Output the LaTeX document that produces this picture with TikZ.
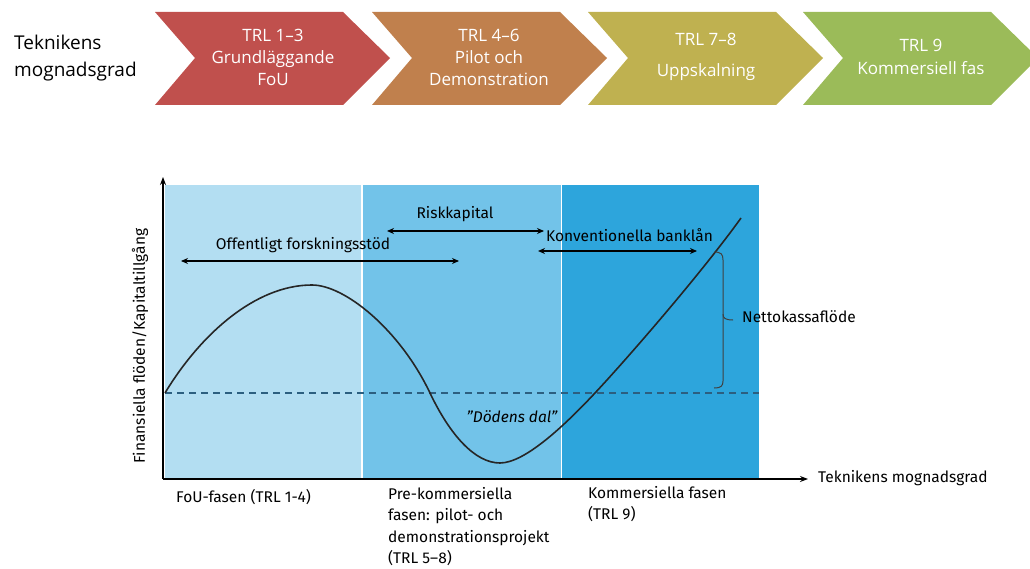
\documentclass[tikz,border=0pt]{standalone}
\usepackage{fontspec}
\setmainfont{Open Sans}
\newfontfamily\chartfont{Fira Sans}
\usetikzlibrary{arrows.meta}
\definecolor{cRed}{HTML}{C0504D}
\definecolor{cOrange}{HTML}{C0804D}
\definecolor{cOlive}{HTML}{BFB150}
\definecolor{cGreen}{HTML}{9BBB59}
\definecolor{bLight}{HTML}{B3DEF2}
\definecolor{bMid}{HTML}{72C3E9}
\definecolor{bDark}{HTML}{2DA5DC}
\definecolor{dashc}{HTML}{2C5F80}
\tikzset{
  chevtext/.style={text=white, font=\fontsize{17}{22}\selectfont, align=center, inner sep=0pt},
  lbl/.style={font=\chartfont\fontsize{15.5}{21.5}\selectfont, inner sep=0pt},
  dbl/.style={{Stealth[length=7pt,width=6pt]}-{Stealth[length=7pt,width=6pt]}, line width=1.4pt},
  axis/.style={-{Stealth[length=8pt,width=6pt]}, line width=1.3pt},
}
\begin{document}
\begin{tikzpicture}[x=1pt,y=-1pt]
\useasboundingbox (0,0) rectangle (1030,569);
% chevrons
\foreach \L/\c in {155/cRed,372/cOrange,588/cOlive,803/cGreen}{
  \fill[\c] (\L,12) -- (\L+188,12) -- (\L+235,58) -- (\L+188,105) -- (\L,105) -- (\L+40,58) -- cycle;
}
\node[anchor=west, font=\fontsize{19}{27}\selectfont, align=left, inner sep=0pt] (tm) at (14,58) {Teknikens\\mognadsgrad};
\node[chevtext] (c1) at (273,57) {TRL 1–3\\Grundläggande\\FoU};
\node[chevtext] (c2) at (489,57) {TRL 4–6\\Pilot och\\Demonstration};
\node[chevtext, font=\fontsize{17}{31}\selectfont] (c3) at (706,57) {TRL 7–8\\Uppskalning};
\node[chevtext, font=\fontsize{17}{23}\selectfont] (c4) at (921,57) {TRL 9\\Kommersiell fas};
% backgrounds
\fill[bLight] (165,185) rectangle (362,478);
\fill[bMid] (362,185) rectangle (561,478);
\fill[bDark] (561,185) rectangle (759,478);
\draw[white, line width=1.2pt] (362,185) -- (362,478);
\draw[white, line width=1.2pt] (561.5,185) -- (561.5,478);
% dashed line
\draw[dashc, line width=1.3pt, dash pattern=on 7pt off 5pt] (165,393) -- (759,393);
% axes
\coordinate (O) at (163,479);
\coordinate (Ytop) at (163,177);
\coordinate (Xend) at (808,479);
\draw[axis] (O) -- (Ytop);
\draw[axis] (O) -- (Xend);
\node[lbl, anchor=west] (xl) at (818,478) {Teknikens mognadsgrad};
\node[lbl, rotate=90] (yl) at (140,346) {Finansiella flöden/Kapitaltillgång};
% curve
\draw[line width=1.6pt, black!85] (165,393) .. controls (200,335) and (255,285) .. (312,285)
  .. controls (345,285) and (400,330) .. (430,393)
  .. controls (450,435) and (475,463) .. (500,463)
  .. controls (525,463) and (565,425) .. (595,393)
  .. controls (625,361) and (700,275) .. (741,218);
% arrows
\coordinate (a1) at (181,261); \coordinate (a2) at (459,261);
\draw[dbl] (a1) -- (a2);
\node[lbl] (t1) at (303,245) {Offentligt forskningsstöd};
\coordinate (b1) at (387,231); \coordinate (b2) at (544,231);
\draw[dbl] (b1) -- (b2);
\node[lbl] (t2) at (455,214) {Riskkapital};
\coordinate (k1) at (538,251); \coordinate (k2) at (697,251);
\draw[dbl] (k1) -- (k2);
\node[lbl, anchor=west] (t3) at (546,235) {Konventionella banklån};
% brace
\draw[line width=1pt, black!75] (714,252) .. controls (721,252) and (723,254) .. (723,260) -- (723,314) .. controls (723,318) and (725,320) .. (733,320);
\draw[line width=1pt, black!75] (723,314) -- (723,326) -- (723,381) .. controls (723,386) and (721,388) .. (714,388);
\node[lbl, anchor=west] (t4) at (742,317) {Nettokassaflöde};
\node[lbl, font=\chartfont\itshape\fontsize{15.5}{21}\selectfont] (dd) at (512,417) {”Dödens dal”};
% bottom labels
\node[lbl, anchor=north west] (f1) at (176,489) {FoU-fasen (TRL 1-4)};
\node[lbl, anchor=north west, align=left] (f2) at (388,487) {Pre-kommersiella\\fasen: pilot- och\\demonstrationsprojekt\\(TRL 5–8)};
\node[lbl, anchor=north west, align=left] (f3) at (588,486) {Kommersiella fasen\\(TRL 9)};
\end{tikzpicture}
\end{document}
